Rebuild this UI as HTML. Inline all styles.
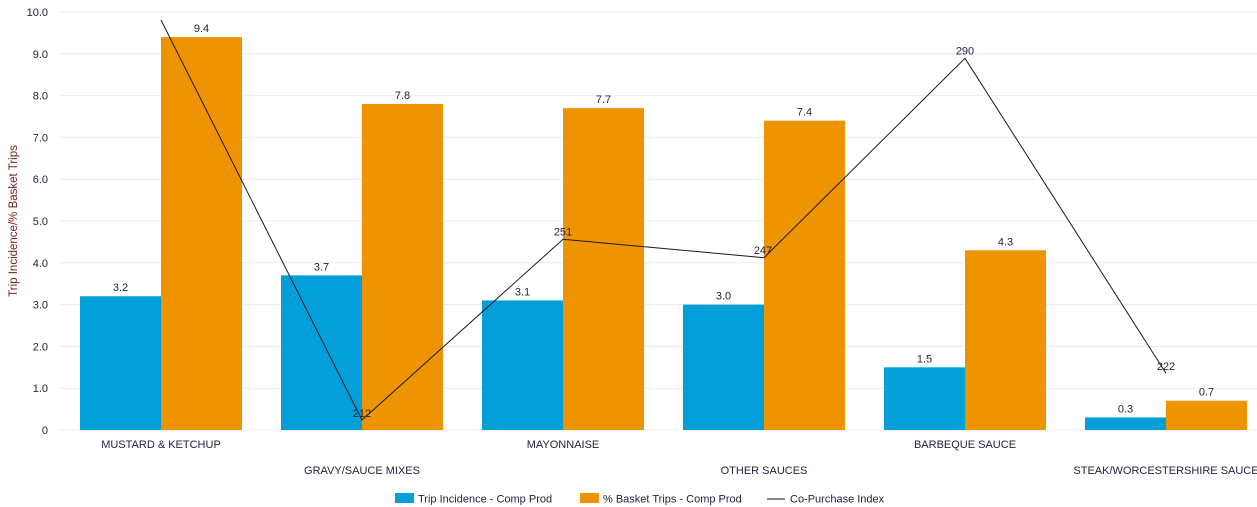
<!DOCTYPE html>
<html><head><meta charset="utf-8"><style>
html,body{margin:0;padding:0;background:#fff;width:1257px;height:507px;overflow:hidden}
svg{display:block}
text{font-family:"Liberation Sans",sans-serif;font-size:11px;fill:#23233f}
</style></head><body>
<svg width="1257" height="507" viewBox="0 0 1257 507" xmlns="http://www.w3.org/2000/svg">
<g stroke="#ececec" stroke-width="1">
<line x1="60" x2="1257" y1="12" y2="12"/>
<line x1="60" x2="1257" y1="53.8" y2="53.8"/>
<line x1="60" x2="1257" y1="95.6" y2="95.6"/>
<line x1="60" x2="1257" y1="137.4" y2="137.4"/>
<line x1="60" x2="1257" y1="179.2" y2="179.2"/>
<line x1="60" x2="1257" y1="221" y2="221"/>
<line x1="60" x2="1257" y1="262.8" y2="262.8"/>
<line x1="60" x2="1257" y1="304.6" y2="304.6"/>
<line x1="60" x2="1257" y1="346.4" y2="346.4"/>
<line x1="60" x2="1257" y1="388.2" y2="388.2"/>
<line x1="60" x2="1257" y1="430" y2="430"/>
</g>
<g text-anchor="end">
<text x="48" y="16">10.0</text>
<text x="48" y="57.8">9.0</text>
<text x="48" y="99.6">8.0</text>
<text x="48" y="141.4">7.0</text>
<text x="48" y="183.2">6.0</text>
<text x="48" y="225">5.0</text>
<text x="48" y="266.8">4.0</text>
<text x="48" y="308.6">3.0</text>
<text x="48" y="350.4">2.0</text>
<text x="48" y="392.2">1.0</text>
<text x="48" y="434">0</text>
</g>
<text transform="translate(17,221) rotate(-90)" text-anchor="middle" style="fill:#6e1c1c;font-size:11.5px">Trip Incidence/% Basket Trips</text>
<g fill="#029fd9">
<rect x="80" y="296.24" width="81" height="133.76"/>
<rect x="281" y="275.34" width="81" height="154.66"/>
<rect x="482" y="300.42" width="81" height="129.58"/>
<rect x="683" y="304.6" width="81" height="125.4"/>
<rect x="884" y="367.3" width="81" height="62.7"/>
<rect x="1085" y="417.46" width="81" height="12.54"/>
</g>
<g fill="#ee9400">
<rect x="161" y="37.08" width="81" height="392.92"/>
<rect x="362" y="103.96" width="81" height="326.04"/>
<rect x="563" y="108.14" width="81" height="321.86"/>
<rect x="764" y="120.68" width="81" height="309.32"/>
<rect x="965" y="250.26" width="81" height="179.74"/>
<rect x="1166" y="400.74" width="81" height="29.26"/>
</g>
<g text-anchor="middle">
<text x="120.5" y="291.2">3.2</text>
<text x="321.5" y="270.3">3.7</text>
<text x="522.5" y="295.4">3.1</text>
<text x="723.5" y="299.6">3.0</text>
<text x="924.5" y="362.3">1.5</text>
<text x="1125.5" y="412.5">0.3</text>
<text x="201.5" y="32.1">9.4</text>
<text x="402.5" y="99">7.8</text>
<text x="603.5" y="103.1">7.7</text>
<text x="804.5" y="115.7">7.4</text>
<text x="1005.5" y="245.3">4.3</text>
<text x="1206.5" y="395.7">0.7</text>
</g>
<polyline points="161,20 362,420 563,239.3 764,257.7 965,58.3 1166,373.3" fill="none" stroke="#1a1a1a" stroke-width="1"/>
<g text-anchor="middle" style="fill:#1a1a2a">
<text x="362" y="417">212</text>
<text x="563" y="235.5">251</text>
<text x="763" y="254">247</text>
<text x="965" y="54.5">290</text>
<text x="1166" y="370">222</text>
</g>
<g text-anchor="middle" style="fill:#1f1f33">
<text x="161" y="448">MUSTARD &amp; KETCHUP</text>
<text x="362" y="474">GRAVY/SAUCE MIXES</text>
<text x="563" y="448">MAYONNAISE</text>
<text x="764" y="474">OTHER SAUCES</text>
<text x="965" y="448">BARBEQUE SAUCE</text>
<text x="1166" y="474">STEAK/WORCESTERSHIRE SAUCE</text>
</g>
<rect x="395" y="493" width="19" height="10" fill="#029fd9"/>
<text x="418" y="502.5">Trip Incidence - Comp Prod</text>
<rect x="580" y="493" width="19" height="10" fill="#ee9400"/>
<text x="603" y="502.5">% Basket Trips - Comp Prod</text>
<line x1="767" x2="785" y1="499" y2="499" stroke="#111" stroke-width="1"/>
<text x="790" y="502.5">Co-Purchase Index</text>
</svg>
</body></html>
